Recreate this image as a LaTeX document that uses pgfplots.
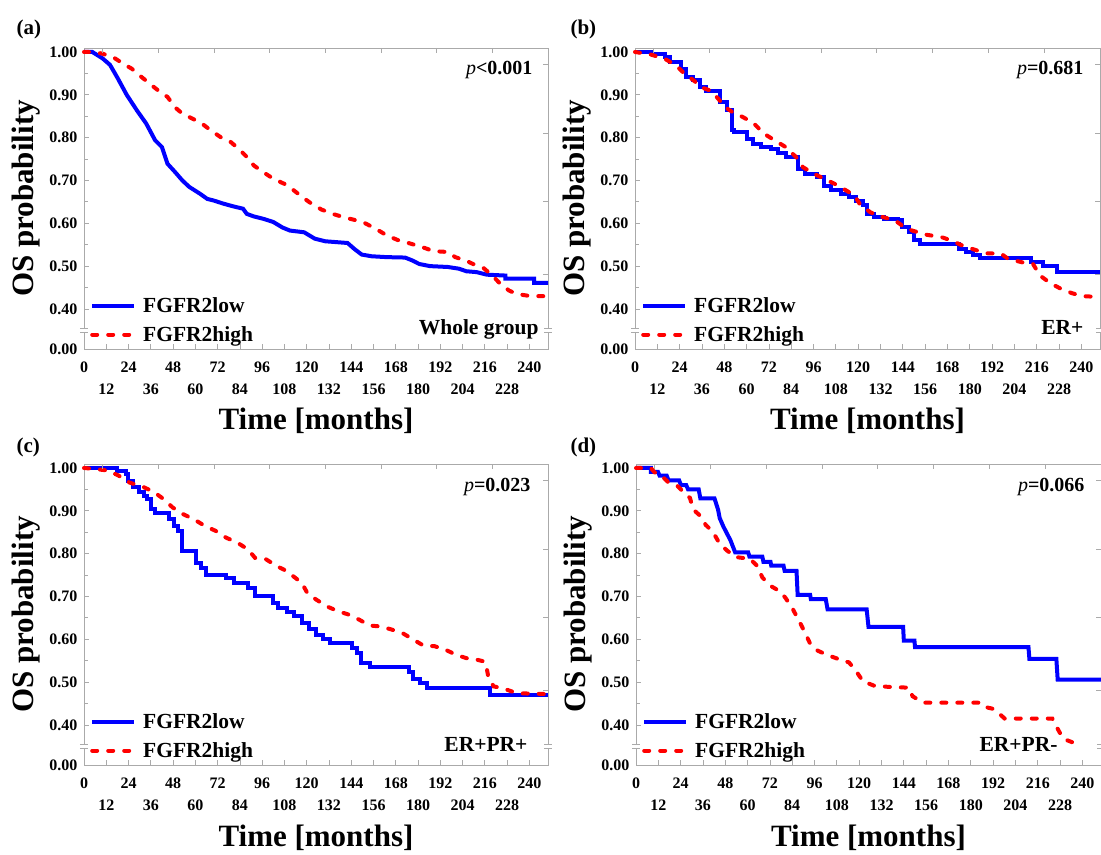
\documentclass[border=0pt]{standalone}
\usepackage{pgfplots}
\pgfplotsset{compat=1.18}
\usepackage{fontspec}
\setmainfont{Liberation Serif}

\definecolor{kmblue}{RGB}{0,0,255}
\definecolor{kmred}{RGB}{255,0,0}
\definecolor{axgray}{RGB}{170,170,170}

\newcommand{\fs}[1]{\fontsize{#1bp}{#1bp}\selectfont\bfseries}

\pgfplotsset{
  km/.style={
    scale only axis, height=301bp, clip=false,
    xmin=0, xmax=250, ymin=0.3065, ymax=1.0093,
    axis line style={axgray, line width=0.8bp},
    tick style={axgray, line width=0.8bp},
    major tick length=5bp, minor tick length=4bp,
    tick align=inside,
    xtick pos=bottom, ytick pos=left,
    xtick={0,24,...,240},
    extra x ticks={12,36,...,228},
    extra x tick style={tick label style={yshift=-22bp}},
    ytick={0.3065,0.4,0.5,0.6,0.7,0.8,0.9,1.0},
    yticklabels={0.00,0.40,0.50,0.60,0.70,0.80,0.90,1.00},
    minor ytick={0.45,0.55,0.65,0.75,0.85,0.95},
    /pgf/number format/assume math mode=true,
    tick label style={font=\fs{16}, text=black},
    xticklabel style={yshift=-9bp},
    yticklabel style={xshift=-3bp},
    xlabel={Time [months]}, ylabel={OS probability},
    label style={font=\fs{31}},
    xlabel style={at={(rel axis cs:0.5,0)}, anchor=base, yshift=-81bp},
    ylabel style={at={([xshift=-58bp]rel axis cs:0,0.5)}, anchor=center},
    legend image code/.code={\draw[#1] (0bp,0bp) -- (42bp,0bp);},
    legend cell align=left,
    legend style={at={(rel axis cs:0,0)}, anchor=south west, xshift=6bp, yshift=6bp,
      draw=none, fill=none, inner sep=0pt, column sep=7bp, row sep=12bp,
      font=\fs{21.5}, nodes={inner sep=0pt}},
  },
  lowcurve/.style={kmblue, line width=4bp},
  highcurve/.style={kmred, line width=4bp, line cap=round, dash pattern=on 5bp off 11bp},
}

% frame details: top and right ticks, axis break
\newcommand{\frameextras}{%
  \pgfplotsinvokeforeach{10,40,70,100,130,160,190,220}{%
    \draw[axgray, line width=0.8bp] (axis cs:##1,1.0093) -- ++(0bp,-5bp);}
  \pgfplotsinvokeforeach{0.97,0.81,0.65,0.48}{%
    \draw[axgray, line width=0.8bp] (axis cs:250,##1) -- ++(-5bp,0bp);}
  \fill[white] ([xshift=-3bp]rel axis cs:0,0.054) rectangle ([xshift=3bp]rel axis cs:0,0.069);
  \draw[axgray, line width=0.8bp] ([xshift=-4bp]rel axis cs:0,0.054) -- ([xshift=4bp]rel axis cs:0,0.054);
  \draw[axgray, line width=0.8bp] ([xshift=-4bp]rel axis cs:0,0.069) -- ([xshift=4bp]rel axis cs:0,0.069);
  \fill[white] ([xshift=-3bp]rel axis cs:1,0.054) rectangle ([xshift=3bp]rel axis cs:1,0.069);
  \draw[axgray, line width=0.8bp] ([xshift=-4bp]rel axis cs:1,0.054) -- ([xshift=4bp]rel axis cs:1,0.054);
  \draw[axgray, line width=0.8bp] ([xshift=-4bp]rel axis cs:1,0.069) -- ([xshift=4bp]rel axis cs:1,0.069);
}

\begin{document}
\begin{tikzpicture}
\useasboundingbox (0,0) rectangle (1101bp,855bp);

% (a) whole group
\begin{axis}[km, width=464bp, at={(84bp,506bp)}, anchor=south west]
\addplot[lowcurve] coordinates {(0,1) (4.5,1) (10,0.985) (14,0.97) (18,0.94) (23,0.90) (28.6,0.863) (33.5,0.833) (38.3,0.794) (42,0.778) (45,0.739) (49,0.72) (53,0.70) (56.7,0.685) (62.5,0.669) (66.4,0.657) (70,0.653) (75,0.646) (80,0.64) (85.7,0.634) (87.7,0.622) (91.5,0.616) (97,0.61) (102,0.603) (107,0.59) (111,0.583) (118.6,0.579) (124.4,0.564) (130,0.558) (142,0.554) (145.7,0.54) (149.6,0.527) (155,0.523) (163,0.521) (173,0.52) (177,0.513) (180.6,0.505) (186.4,0.50) (196,0.498) (202,0.494) (206,0.488) (211.5,0.486) (217,0.48) (227,0.478) (227,0.471) (242.5,0.471) (242.5,0.461) (250,0.461)};
\addlegendentry{FGFR2low}
\addplot[highcurve] coordinates {(0,1) (5,1) (10,0.996) (16,0.987) (21,0.973) (25.7,0.961) (30.6,0.943) (35.4,0.926) (40,0.91) (45,0.895) (49,0.871) (53,0.856) (58.6,0.844) (63.5,0.833) (68.3,0.817) (74,0.80) (79,0.79) (83.8,0.772) (87.7,0.755) (91.5,0.735) (96.4,0.72) (102,0.704) (108,0.692) (113,0.677) (117.7,0.661) (122.5,0.646) (128,0.632) (134,0.622) (140,0.614) (145.7,0.608) (151.5,0.60) (157.3,0.587) (163,0.572) (169,0.561) (174.8,0.554) (182.5,0.544) (188.3,0.535) (196,0.533) (200,0.521) (205.7,0.513) (209.6,0.505) (215.4,0.495) (220,0.478) (224,0.46) (229,0.443) (233,0.435) (240.6,0.43) (250,0.43)};
\addlegendentry{FGFR2high}
\frameextras
\node[anchor=base east, font=\fs{20}] at ([xshift=-12bp,yshift=-27bp]rel axis cs:1,1) {\textit{\mdseries p}<0.001};
\node[anchor=base east, font=\fs{21.5}] at ([xshift=-6bp,yshift=14bp]rel axis cs:1,0) {Whole group};
\node[anchor=base west, font=\fs{21}] at ([xshift=-71bp,yshift=13bp]rel axis cs:0,1) {(a)};
\end{axis}

% (b) ER+
\begin{axis}[km, width=465bp, at={(635bp,506bp)}, anchor=south west]
\addplot[lowcurve, const plot] coordinates {(0,1) (7.6,1) (8.5,0.995) (16,0.988) (19,0.977) (22.8,0.977) (24.7,0.961) (27.6,0.942) (31.4,0.934) (35,0.918) (38,0.91) (41.8,0.91) (45.6,0.883) (49.4,0.864) (52.3,0.817) (53,0.813) (56,0.813) (60,0.797) (63.7,0.786) (67.5,0.778) (73,0.774) (77,0.764) (81,0.755) (85.5,0.755) (87.5,0.727) (91.3,0.716) (98,0.708) (101.7,0.688) (105.5,0.677) (111,0.669) (115,0.661) (118.8,0.653) (122.6,0.642) (124.5,0.622) (128.3,0.614) (134,0.61) (141.6,0.607) (143.5,0.591) (147.3,0.58) (150,0.56) (153,0.552) (172,0.552) (174,0.54) (178,0.533) (181.6,0.525) (185.4,0.52) (212,0.52) (213,0.51) (219.6,0.50) (226,0.50) (227,0.486) (250,0.486)};
\addlegendentry{FGFR2low}
\addplot[highcurve] coordinates {(0,1) (8.5,0.994) (16,0.984) (22,0.969) (25.7,0.953) (31.4,0.934) (36,0.917) (41,0.909) (44.7,0.891) (48.5,0.871) (52.3,0.86) (58,0.848) (63.7,0.834) (69.4,0.809) (75,0.794) (81,0.778) (86.5,0.755) (90.3,0.731) (96,0.716) (101.7,0.704) (107.4,0.692) (113,0.678) (118,0.665) (120.7,0.646) (126.4,0.626) (132,0.616) (139.7,0.607) (143.5,0.595) (149,0.583) (157,0.573) (164.6,0.568) (170,0.56) (176,0.548) (183.5,0.537) (189,0.53) (196.8,0.529) (200.6,0.517) (208,0.509) (214,0.505) (217.7,0.478) (223.4,0.46) (229,0.447) (234.8,0.437) (240.5,0.43) (249,0.428)};
\addlegendentry{FGFR2high}
\frameextras
\node[anchor=base east, font=\fs{20}] at ([xshift=-13bp,yshift=-27bp]rel axis cs:1,1) {\textit{\mdseries p}=0.681};
\node[anchor=base east, font=\fs{21.5}] at ([xshift=-13bp,yshift=14bp]rel axis cs:1,0) {ER+};
\node[anchor=base west, font=\fs{21}] at ([xshift=-68bp,yshift=13bp]rel axis cs:0,1) {(b)};
\end{axis}

% (c) ER+PR+
\begin{axis}[km, width=464bp, at={(84bp,90bp)}, anchor=south west]
\addplot[lowcurve, const plot] coordinates {(0,1) (16.8,1) (17.8,0.994) (22.6,0.986) (23.6,0.97) (26.5,0.955) (29.4,0.943) (32.3,0.935) (34.2,0.927) (36,0.904) (38,0.896) (43,0.896) (45.8,0.88) (48.7,0.865) (50.6,0.853) (52.6,0.806) (57.4,0.806) (60.3,0.779) (63.2,0.767) (66,0.749) (74.8,0.749) (76.7,0.744) (80.6,0.732) (84.4,0.732) (88.3,0.72) (92.2,0.702) (98,0.702) (101.8,0.685) (104.7,0.673) (109.6,0.663) (113.4,0.654) (117.3,0.638) (121,0.623) (125,0.609) (129,0.60) (132.8,0.591) (140.5,0.591) (144.3,0.58) (147.2,0.568) (149,0.545) (154,0.535) (172.4,0.535) (175.3,0.523) (177.2,0.507) (181,0.498) (185,0.486) (218.7,0.486) (218.7,0.47) (250,0.47)};
\addlegendentry{FGFR2low}
\addplot[highcurve] coordinates {(0,1) (5.2,0.998) (13,0.994) (18.7,0.982) (24.5,0.966) (32.3,0.955) (38,0.943) (43,0.927) (47.7,0.908) (53.5,0.892) (59.3,0.88) (65,0.865) (71,0.853) (76.7,0.837) (82.5,0.826) (88.3,0.81) (92.2,0.79) (98,0.787) (103.8,0.771) (107.6,0.763) (112.5,0.748) (117.3,0.732) (120.2,0.709) (125,0.693) (130.8,0.677) (136.6,0.666) (142.4,0.658) (148.2,0.646) (154,0.632) (159.8,0.63) (165.6,0.623) (171.4,0.615) (177.2,0.60) (183,0.585) (188.8,0.584) (194.6,0.576) (200.4,0.564) (206,0.556) (212,0.552) (215.8,0.548) (216.8,0.537) (217.8,0.513) (220.7,0.49) (225.5,0.486) (233.2,0.474) (242.9,0.473) (250,0.472)};
\addlegendentry{FGFR2high}
\frameextras
\node[anchor=base east, font=\fs{20}] at ([xshift=-14bp,yshift=-27bp]rel axis cs:1,1) {\textit{\mdseries p}=0.023};
\node[anchor=base east, font=\fs{21.5}] at ([xshift=-17bp,yshift=13bp]rel axis cs:1,0) {ER+PR+};
\node[anchor=base west, font=\fs{21}] at ([xshift=-71bp,yshift=12bp]rel axis cs:0,1) {(c)};
\end{axis}

% (d) ER+PR-
\begin{axis}[km, width=465bp, at={(636bp,90bp)}, anchor=south west]
\addplot[lowcurve] coordinates {(0,1) (8,1) (8,0.991) (11.8,0.991) (12.7,0.982) (16.5,0.982) (17.5,0.971) (23.2,0.971) (24.2,0.96) (27,0.96) (28,0.95) (33.7,0.95) (34.6,0.929) (42.2,0.929) (44.1,0.903) (45,0.883) (47,0.863) (48.9,0.847) (50.8,0.831) (53.3,0.803) (60.3,0.803) (61,0.793) (67.9,0.793) (68.5,0.781) (72.3,0.781) (72.7,0.772) (79.3,0.772) (79.9,0.76) (86.3,0.76) (86.9,0.704) (93.6,0.704) (94,0.694) (102,0.694) (103,0.67) (124,0.67) (125,0.629) (143.6,0.629) (144,0.597) (149.7,0.597) (150,0.582) (211,0.582) (211.5,0.554) (226,0.554) (226.7,0.506) (250,0.506)};
\addlegendentry{FGFR2low}
\addplot[highcurve] coordinates {(0,1) (8,1) (9.9,0.99) (13.7,0.982) (17.5,0.966) (22.3,0.958) (25,0.946) (29,0.93) (30.8,0.903) (34.6,0.888) (37.5,0.867) (41.3,0.851) (45,0.823) (49,0.807) (53.6,0.792) (61.2,0.788) (65,0.772) (68,0.744) (72.6,0.724) (77.4,0.712) (80.3,0.697) (84,0.673) (87.9,0.641) (90.7,0.617) (93.6,0.59) (97.4,0.574) (103,0.563) (108.8,0.554) (114.5,0.546) (118.3,0.526) (122,0.502) (127.8,0.492) (135.4,0.489) (146.8,0.487) (148.7,0.467) (154.4,0.452) (184.9,0.452) (186.8,0.443) (192.5,0.437) (198.2,0.415) (223.8,0.415) (226.7,0.391) (229.6,0.368) (234.3,0.36) (240,0.354)};
\addlegendentry{FGFR2high}
\frameextras
\node[anchor=base east, font=\fs{20}] at ([xshift=-13bp,yshift=-27bp]rel axis cs:1,1) {\textit{\mdseries p}=0.066};
\node[anchor=base east, font=\fs{21.5}] at ([xshift=-40bp,yshift=13bp]rel axis cs:1,0) {ER+PR-};
\node[anchor=base west, font=\fs{21}] at ([xshift=-69bp,yshift=12bp]rel axis cs:0,1) {(d)};
\end{axis}
\end{tikzpicture}
\end{document}
